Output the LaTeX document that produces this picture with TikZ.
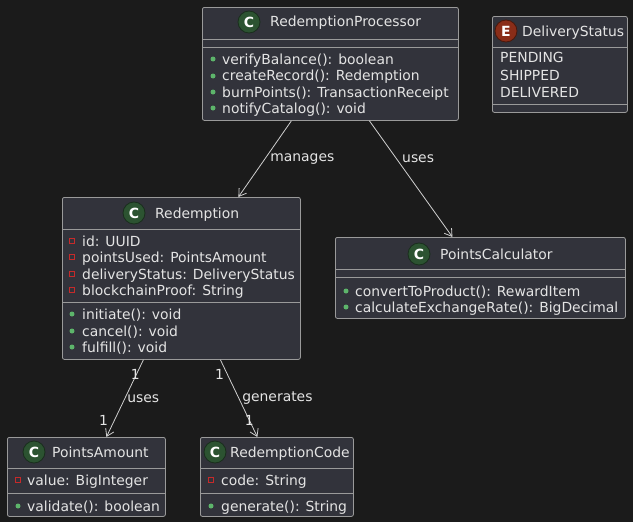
\documentclass[tikz,border=0pt]{standalone}
\usepackage{fontspec}
\setmainfont{DejaVu Sans}
\usetikzlibrary{arrows.meta}
\definecolor{bgdark}{HTML}{1B1B1B}
\definecolor{boxfill}{HTML}{32333B}
\definecolor{boxline}{HTML}{9A9A9A}
\definecolor{textcol}{HTML}{E4E4E4}
\definecolor{linkcol}{HTML}{CFCFCF}
\definecolor{cgreen}{HTML}{2C5331}
\definecolor{cgreenline}{HTML}{1A2E1D}
\definecolor{ered}{HTML}{8A2D18}
\definecolor{eredline}{HTML}{4A180C}
\definecolor{pubgreen}{HTML}{5DB56B}
\definecolor{privred}{HTML}{C62A2A}

\begin{document}
\begin{tikzpicture}[x=1pt, y=-1pt,
        classbox/.style={
            rectangle,
            rounded corners=2pt,
            draw=boxline,
            fill=boxfill,
            line width=0.8pt,
            anchor=north west,
            inner sep=0pt
        },
        badge/.style={
            circle,
            draw=cgreenline,
            fill=cgreen,
            line width=0.8pt,
            minimum size=22pt,
            inner sep=0pt,
            text=white,
            font=\fontsize{14}{14}\selectfont\bfseries
        },
        title/.style={
            anchor=west,
            inner sep=0pt,
            text height=10pt,
            text depth=0pt,
            text=textcol,
            font=\fontsize{13.9}{16}\selectfont
        },
        member/.style={title},
        sepline/.style={draw=boxline, line width=0.8pt},
        pub/.style={circle, fill=pubgreen, minimum size=5pt, inner sep=0pt},
        priv/.style={rectangle, draw=privred, line width=0.8pt, minimum size=5.5pt, inner sep=0pt},
        assoc/.style={-{Straight Barb[length=7pt, width=9pt]}, draw=linkcol, line width=0.8pt},
        linklabel/.style={text=textcol, inner sep=1pt, font=\fontsize{13.9}{16}\selectfont}
    ]
    \fill[bgdark] (0,0) rectangle (633,522);
    \useasboundingbox (0,0) rectangle (633,522);

    % RedemptionProcessor
    \node[classbox, minimum width=256pt, minimum height=113pt] (proc) at (202,7) {};
    \node[badge] (procC) at (249,22) {C};
    \node[title] (procT) at (270,22) {RedemptionProcessor};
    \draw[sepline] (202,39) -- (458,39);
    \draw[sepline] (202,47) -- (458,47);
    \node[pub] at (213,59) {};
    \node[member] at (222,59) {verifyBalance(): boolean};
    \node[pub] at (213,76) {};
    \node[member] at (222,76) {createRecord(): Redemption};
    \node[pub] at (213,92) {};
    \node[member] at (222,92) {burnPoints(): TransactionReceipt};
    \node[pub] at (213,108) {};
    \node[member] at (222,108) {notifyCatalog(): void};

    % DeliveryStatus
    \node[classbox, minimum width=135pt, minimum height=96pt] (status) at (492,16) {};
    \node[badge, fill=ered, draw=eredline] (statusE) at (506,31) {E};
    \node[title] (statusT) at (522,31) {DeliveryStatus};
    \draw[sepline] (492,47) -- (627,47);
    \node[member] at (500,58) {PENDING};
    \node[member] at (500,75) {SHIPPED};
    \node[member] at (500,92) {DELIVERED};
    \draw[sepline] (492,104) -- (627,104);

    % Redemption
    \node[classbox, minimum width=238pt, minimum height=162pt] (redemption) at (62,197) {};
    \node[badge] (redemptionC) at (134,213) {C};
    \node[title] (redemptionT) at (155,213) {Redemption};
    \draw[sepline] (62,229) -- (300,229);
    \node[priv] at (72,241) {};
    \node[member] at (82,241) {id: UUID};
    \node[priv] at (72,257) {};
    \node[member] at (82,257) {pointsUsed: PointsAmount};
    \node[priv] at (72,274) {};
    \node[member] at (82,274) {deliveryStatus: DeliveryStatus};
    \node[priv] at (72,290) {};
    \node[member] at (82,290) {blockchainProof: String};
    \draw[sepline] (62,302) -- (300,302);
    \node[pub] at (72,314) {};
    \node[member] at (82,314) {initiate(): void};
    \node[pub] at (72,331) {};
    \node[member] at (82,331) {cancel(): void};
    \node[pub] at (72,347) {};
    \node[member] at (82,347) {fulfill(): void};

    % PointsCalculator
    \node[classbox, minimum width=290pt, minimum height=81pt] (calc) at (335,237) {};
    \node[badge] (calcC) at (419,254) {C};
    \node[title] (calcT) at (440,254) {PointsCalculator};
    \draw[sepline] (335,269) -- (625,269);
    \draw[sepline] (335,277) -- (625,277);
    \node[pub] at (346,291) {};
    \node[member] at (355,291) {convertToProduct(): RewardItem};
    \node[pub] at (346,307) {};
    \node[member] at (355,307) {calculateExchangeRate(): BigDecimal};

    % PointsAmount
    \node[classbox, minimum width=158pt, minimum height=79pt] (amount) at (7,437) {};
    \node[badge] (amountC) at (34,452) {C};
    \node[title] (amountT) at (52,452) {PointsAmount};
    \draw[sepline] (7,468) -- (165,468);
    \node[priv] at (18,480) {};
    \node[member] at (27,480) {value: BigInteger};
    \draw[sepline] (7,493) -- (165,493);
    \node[pub] at (18,506) {};
    \node[member] at (27,506) {validate(): boolean};

    % RedemptionCode
    \node[classbox, minimum width=153pt, minimum height=79pt] (code) at (200,437) {};
    \node[badge] (codeC) at (215,452) {C};
    \node[title] (codeT) at (230,452) {RedemptionCode};
    \draw[sepline] (200,468) -- (353,468);
    \node[priv] at (211,480) {};
    \node[member] at (221,480) {code: String};
    \draw[sepline] (200,493) -- (353,493);
    \node[pub] at (211,506) {};
    \node[member] at (221,506) {generate(): String};

    % Verbindungen
    \draw[assoc] ([xshift=-39pt]proc.south) -- node[linklabel, pos=0.5, right=4pt]{manages} ([xshift=57pt]redemption.north);
    \draw[assoc] ([xshift=39pt]proc.south) -- node[linklabel, pos=0.33, right=4pt]{uses} ([xshift=-28pt]calc.north);
    \draw[assoc] ([xshift=-38pt]redemption.south) -- node[linklabel, pos=0.5, right=1pt]{uses}
        node[linklabel, pos=0.19, xshift=-1pt]{1}
        node[linklabel, pos=0.78, xshift=-11pt]{1} ([xshift=20pt]amount.north);
    \draw[assoc] ([xshift=39pt]redemption.south) -- node[linklabel, pos=0.5, right=2pt]{generates}
        node[linklabel, pos=0.19, xshift=-8pt]{1}
        node[linklabel, pos=0.78]{1} ([xshift=-19.5pt]code.north);
\end{tikzpicture}
\end{document}
